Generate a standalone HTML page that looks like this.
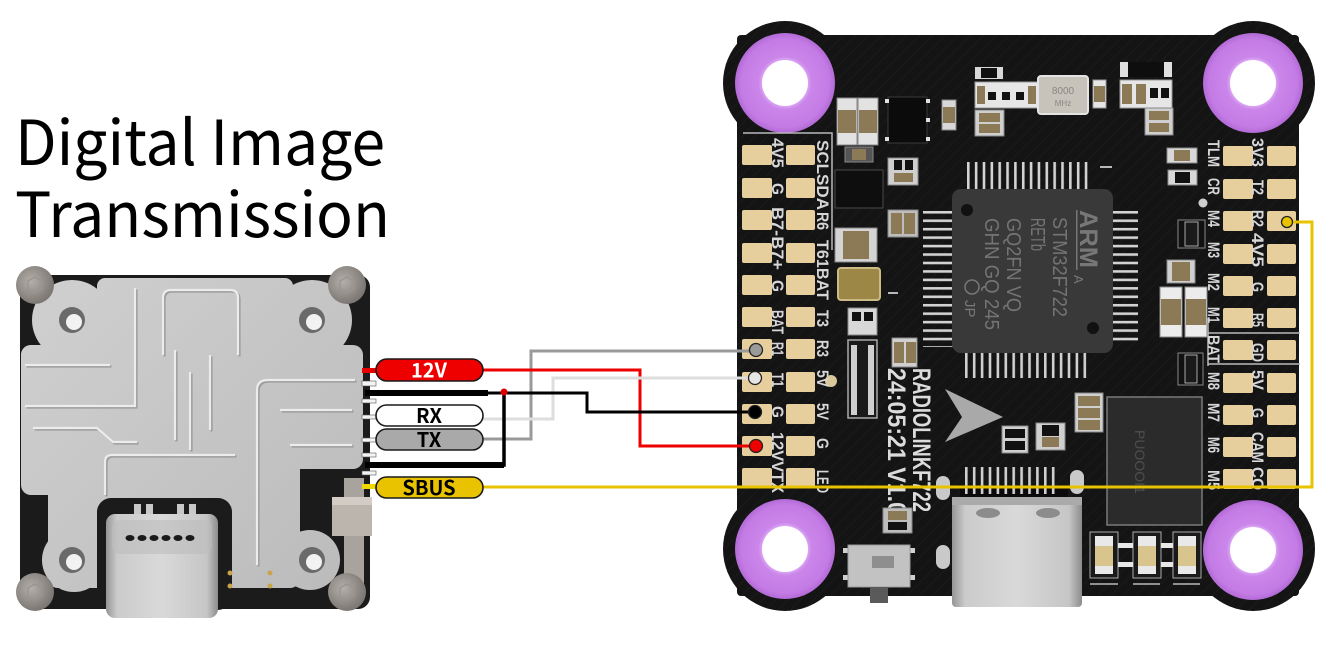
<!DOCTYPE html>
<html><head><meta charset="utf-8"><style>
html,body{margin:0;padding:0;background:#fff;width:1340px;height:651px;overflow:hidden}
svg{display:block}
.lb{font-family:"Liberation Sans",sans-serif;font-weight:bold;font-size:17px;fill:#d6d6d6}
.ct{font-family:"Liberation Sans",sans-serif;font-size:20px;fill:#747474}
.pl{font-family:"Noto Sans CJK SC","Liberation Sans",sans-serif;font-weight:700;font-size:20px;text-anchor:middle}
</style></head><body>
<svg width="1340" height="651" viewBox="0 0 1340 651" xmlns="http://www.w3.org/2000/svg">
<defs>
 <radialGradient id="ring" cx="0.5" cy="0.5" r="0.5">
  <stop offset="0.46" stop-color="#dca6f3"/>
  <stop offset="0.53" stop-color="#cb86ea"/>
  <stop offset="0.88" stop-color="#c47be5"/>
  <stop offset="1" stop-color="#b26ad6"/>
 </radialGradient>
 <linearGradient id="silver" gradientUnits="userSpaceOnUse" x1="20" y1="275" x2="370" y2="610">
  <stop offset="0" stop-color="#d0d0d0"/>
  <stop offset="1" stop-color="#bababa"/>
 </linearGradient>
 <linearGradient id="usb" x1="0" y1="0" x2="1" y2="0">
  <stop offset="0" stop-color="#959595"/>
  <stop offset="0.1" stop-color="#cbcbcb"/>
  <stop offset="0.5" stop-color="#d9d9d9"/>
  <stop offset="0.9" stop-color="#c6c6c6"/>
  <stop offset="1" stop-color="#8c8c8c"/>
 </linearGradient>
 <radialGradient id="screw" cx="0.4" cy="0.4" r="0.6">
  <stop offset="0" stop-color="#b4afa9"/>
  <stop offset="1" stop-color="#7c7772"/>
 </radialGradient>
 <pattern id="tr" width="9" height="9" patternUnits="userSpaceOnUse" patternTransform="rotate(45)">
  <line x1="0" y1="0" x2="0" y2="9" stroke="#1e1e1e" stroke-width="1.4"/>
 </pattern>
 <pattern id="pv" x="967" y="0" width="7.85" height="40" patternUnits="userSpaceOnUse">
  <rect x="0" y="0" width="2.6" height="40" fill="#d2d2d2"/>
 </pattern>
 <pattern id="pv2" x="965" y="0" width="7.9" height="40" patternUnits="userSpaceOnUse">
  <rect x="0" y="0" width="2.6" height="40" fill="#cfcfcf"/>
 </pattern>
 <pattern id="ph" x="0" y="211" width="40" height="8.45" patternUnits="userSpaceOnUse">
  <rect x="0" y="0" width="40" height="2.6" fill="#d2d2d2"/>
 </pattern>
 <clipPath id="bclip">
  <rect x="737" y="35" width="562" height="561" rx="4"/>
  <circle cx="785" cy="83" r="62"/><circle cx="1253" cy="83" r="62"/>
  <circle cx="785" cy="549" r="62"/><circle cx="1253" cy="549" r="62"/>
 </clipPath>
</defs>

<!-- Title -->
<text x="15" y="165" font-family="'Noto Sans CJK SC','Liberation Sans',sans-serif" font-size="62" fill="#000" textLength="370" lengthAdjust="spacingAndGlyphs">Digital Image</text>
<text x="15" y="237" font-family="'Noto Sans CJK SC','Liberation Sans',sans-serif" font-size="62" fill="#000" textLength="375" lengthAdjust="spacingAndGlyphs">Transmission</text>

<!-- ============ LEFT MODULE ============ -->
<rect x="20" y="275" width="350" height="334" rx="12" fill="#1b1b1b"/>
<g fill="url(#silver)">
 <rect x="97" y="278" width="196" height="230" rx="8"/>
 <rect x="21" y="345" width="342" height="124" rx="10"/>
 <rect x="21" y="345" width="279" height="150" rx="10"/>
 <rect x="48" y="470" width="252" height="118" rx="10"/>
 <circle cx="72" cy="320" r="40"/>
 <circle cx="312" cy="320" r="40"/>
 <circle cx="74" cy="560" r="32"/>
 <circle cx="310" cy="560" r="30"/>
 <rect x="60" y="300" width="270" height="60"/>
</g>
<!-- grooves -->
<g fill="none" stroke="#9d9d9d" stroke-width="2.2" transform="translate(1.5,1.5)">
 <path d="M25 365 H110"/><path d="M25 406 H135 V288"/>
 <path d="M33 428 H97 L113 442 H137"/>
 <path d="M163 355 V298 Q163 290 171 290 H230 Q238 290 238 298 V355"/>
 <path d="M175 350 V440"/><path d="M190 372 V450"/><path d="M210 355 V430"/>
 <path d="M105 495 V462 Q105 455 112 455 H235"/>
 <path d="M257 565 V390 Q257 380 268 380 H355"/>
 <path d="M280 410 H352"/><path d="M290 445 H352"/>
</g>
<g fill="none" stroke="#ececec" stroke-width="2.2">
 <path d="M25 365 H110"/><path d="M25 406 H135 V288"/>
 <path d="M33 428 H97 L113 442 H137"/>
 <path d="M163 355 V298 Q163 290 171 290 H230 Q238 290 238 298 V355"/>
 <path d="M175 350 V440"/><path d="M190 372 V450"/><path d="M210 355 V430"/>
 <path d="M105 495 V462 Q105 455 112 455 H235"/>
 <path d="M257 565 V390 Q257 380 268 380 H355"/>
 <path d="M280 410 H352"/><path d="M290 445 H352"/>
</g>
<!-- holes -->
<g>
 <circle cx="72" cy="320" r="13" fill="#6a6a6a"/><circle cx="74" cy="322" r="8" fill="#f2f2f2"/>
 <circle cx="312" cy="320" r="13" fill="#6a6a6a"/><circle cx="314" cy="322" r="8" fill="#f2f2f2"/>
 <circle cx="72" cy="560" r="13" fill="#6a6a6a"/><circle cx="74" cy="562" r="8" fill="#f2f2f2"/>
 <circle cx="312" cy="560" r="13" fill="#6a6a6a"/><circle cx="314" cy="562" r="8" fill="#f2f2f2"/>
</g>
<!-- USB cutout + connector -->
<rect x="97" y="498" width="135" height="112" rx="14" fill="#1b1b1b"/>
<g fill="#c8c8c8">
 <rect x="134" y="504" width="7" height="12"/><rect x="146" y="504" width="7" height="12"/>
 <rect x="177" y="504" width="7" height="12"/><rect x="189" y="504" width="7" height="12"/>
</g>
<rect x="106" y="514" width="112" height="104" rx="9" fill="url(#usb)"/>
<rect x="112" y="520" width="100" height="34" rx="8" fill="#bdbdbd" opacity="0.6"/>
<g fill="#1a1a1a">
 <ellipse cx="130" cy="538" rx="4.5" ry="3"/><ellipse cx="142" cy="538" rx="4.5" ry="3"/>
 <ellipse cx="154" cy="538" rx="4.5" ry="3"/><ellipse cx="166" cy="538" rx="4.5" ry="3"/>
 <ellipse cx="178" cy="538" rx="4.5" ry="3"/><ellipse cx="190" cy="538" rx="4.5" ry="3"/>
</g>
<g fill="#c9a44a">
 <circle cx="230" cy="573" r="2.5"/><circle cx="230" cy="586" r="2.5"/>
 <circle cx="270" cy="573" r="2.5"/><circle cx="270" cy="586" r="2.5"/>
</g>
<!-- slider -->
<rect x="344" y="478" width="20" height="122" fill="#a9a39d"/>
<rect x="332" y="497" width="40" height="39" fill="#bcb5ad"/>
<rect x="332" y="497" width="40" height="8" fill="#d2ccc5"/>
<!-- screws -->
<g>
 <circle cx="35" cy="285" r="19" fill="url(#screw)"/>
 <circle cx="347" cy="285" r="19" fill="url(#screw)"/>
 <circle cx="35" cy="592" r="19" fill="url(#screw)"/>
 <circle cx="347" cy="592" r="19" fill="url(#screw)"/>
 <g fill="none" stroke="#9b958f" stroke-width="1.5">
  <polygon points="35,277 42,281 42,289 35,293 28,289 28,281"/>
  <polygon points="347,277 354,281 354,289 347,293 340,289 340,281"/>
  <polygon points="35,584 42,588 42,596 35,600 28,596 28,588"/>
  <polygon points="347,584 354,588 354,596 347,600 340,596 340,588"/>
 </g>
</g>
<!-- module edge stubs -->
<g fill="#f4f4f4" stroke="#555" stroke-width="0.6">
 <rect x="362" y="381" width="14" height="5"/>
 <rect x="362" y="399" width="14" height="4"/>
 <rect x="362" y="415" width="14" height="4"/>
 <rect x="362" y="438" width="14" height="4"/>
 <rect x="362" y="453" width="14" height="4"/>
 <rect x="362" y="471" width="14" height="4"/>
</g>
<rect x="362" y="368" width="16" height="5" fill="#e60000"/>
<rect x="362" y="484" width="16" height="5" fill="#f0d800"/>

<!-- ============ FC BOARD ============ -->
<g fill="#141414">
 <rect x="737" y="35" width="562" height="561" rx="4"/>
 <circle cx="785" cy="83" r="62"/><circle cx="1253" cy="83" r="62"/>
 <circle cx="785" cy="549" r="62"/><circle cx="1253" cy="549" r="62"/>
</g>
<rect x="720" y="20" width="600" height="600" fill="url(#tr)" clip-path="url(#bclip)" opacity="0.9"/>

<!-- mounting rings -->
<g>
 <circle cx="785" cy="83" r="50" fill="url(#ring)"/><circle cx="785" cy="83" r="23" fill="#fff"/>
 <circle cx="1253" cy="83" r="50" fill="url(#ring)"/><circle cx="1253" cy="83" r="23" fill="#fff"/>
 <circle cx="785" cy="549" r="50" fill="url(#ring)"/><circle cx="785" cy="549" r="23" fill="#fff"/>
 <circle cx="1253" cy="550" r="50" fill="url(#ring)"/><circle cx="1253" cy="550" r="23" fill="#fff"/>
</g>

<!-- silkscreen lines -->
<g stroke="#b9b9b9" stroke-width="1.5" fill="none">
 <path d="M743 133 H832 V250"/>
 <path d="M1208 333 H1300 M1208 364 H1300 M1208 318 V366"/>
 <path d="M1090 584 H1118 M1133 584 H1160 M1173 584 H1200"/>
</g>

<!-- pads -->
<g fill="#e6cf9c">
 <g id="lp">
  <rect x="742" y="145" width="30" height="20" rx="2"/><rect x="786" y="145" width="29" height="20" rx="2"/>
  <rect x="742" y="178" width="30" height="20" rx="2"/><rect x="786" y="178" width="29" height="20" rx="2"/>
  <rect x="742" y="210" width="30" height="20" rx="2"/><rect x="786" y="210" width="29" height="20" rx="2"/>
  <rect x="742" y="243" width="30" height="20" rx="2"/><rect x="786" y="243" width="29" height="20" rx="2"/>
  <rect x="742" y="275" width="30" height="20" rx="2"/><rect x="786" y="275" width="29" height="20" rx="2"/>
  <rect x="742" y="307" width="30" height="20" rx="2"/><rect x="786" y="307" width="29" height="20" rx="2"/>
  <rect x="742" y="339" width="30" height="20" rx="2"/><rect x="786" y="339" width="29" height="20" rx="2"/>
  <rect x="742" y="372" width="30" height="20" rx="2"/><rect x="786" y="372" width="29" height="20" rx="2"/>
  <rect x="742" y="404" width="30" height="20" rx="2"/><rect x="786" y="404" width="29" height="20" rx="2"/>
  <rect x="742" y="436" width="30" height="20" rx="2"/><rect x="786" y="436" width="29" height="20" rx="2"/>
  <rect x="742" y="468" width="30" height="20" rx="2"/><rect x="786" y="468" width="29" height="20" rx="2"/>
 </g>
 <use href="#lp" transform="translate(481,1)"/>
</g>
<circle cx="831" cy="381" r="6" fill="#d9c99a"/>
<circle cx="1203" cy="203" r="4.5" fill="#cfcfcf"/>

<!-- labels -->
<g class="lb">
 <text transform="translate(772,138) rotate(90)" textLength="30" lengthAdjust="spacingAndGlyphs">4V5</text>
 <text transform="translate(772,183) rotate(90)" textLength="12" lengthAdjust="spacingAndGlyphs">G</text>
 <text transform="translate(772,207) rotate(90)" textLength="63" lengthAdjust="spacingAndGlyphs">B7-B7+</text>
 <text transform="translate(772,280) rotate(90)" textLength="12" lengthAdjust="spacingAndGlyphs">G</text>
 <text transform="translate(772,310) rotate(90)" textLength="24" lengthAdjust="spacingAndGlyphs">BAT</text>
 <text transform="translate(772,342) rotate(90)" textLength="14" lengthAdjust="spacingAndGlyphs">R1</text>
 <text transform="translate(772,373) rotate(90)" textLength="14" lengthAdjust="spacingAndGlyphs">T1</text>
 <text transform="translate(772,406) rotate(90)" textLength="12" lengthAdjust="spacingAndGlyphs">G</text>
 <text transform="translate(772,432) rotate(90)" textLength="61" lengthAdjust="spacingAndGlyphs">12VVTX</text>

 <text transform="translate(817,140) rotate(90)" textLength="70" lengthAdjust="spacingAndGlyphs">SCLSDA</text>
 <text transform="translate(817,212) rotate(90)" textLength="18" lengthAdjust="spacingAndGlyphs">R6</text>
 <text transform="translate(817,240) rotate(90)" textLength="60" lengthAdjust="spacingAndGlyphs">T61BAT</text>
 <text transform="translate(817,310) rotate(90)" textLength="17" lengthAdjust="spacingAndGlyphs">T3</text>
 <text transform="translate(817,340) rotate(90)" textLength="17" lengthAdjust="spacingAndGlyphs">R3</text>
 <text transform="translate(817,370) rotate(90)" textLength="17" lengthAdjust="spacingAndGlyphs">5V</text>
 <text transform="translate(817,403) rotate(90)" textLength="17" lengthAdjust="spacingAndGlyphs">5V</text>
 <text transform="translate(817,438) rotate(90)" textLength="11" lengthAdjust="spacingAndGlyphs">G</text>
 <text transform="translate(817,470) rotate(90)" textLength="23" lengthAdjust="spacingAndGlyphs">LED</text>

 <text transform="translate(1208,140) rotate(90)" textLength="27" lengthAdjust="spacingAndGlyphs">TLM</text>
 <text transform="translate(1208,178) rotate(90)" textLength="17" lengthAdjust="spacingAndGlyphs">CR</text>
 <text transform="translate(1208,210) rotate(90)" textLength="17" lengthAdjust="spacingAndGlyphs">M4</text>
 <text transform="translate(1208,242) rotate(90)" textLength="16" lengthAdjust="spacingAndGlyphs">M3</text>
 <text transform="translate(1208,273) rotate(90)" textLength="18" lengthAdjust="spacingAndGlyphs">M2</text>
 <text transform="translate(1208,307) rotate(90)" textLength="16" lengthAdjust="spacingAndGlyphs">M1</text>
 <text transform="translate(1208,335) rotate(90)" textLength="28" lengthAdjust="spacingAndGlyphs">BAT</text>
 <text transform="translate(1208,372) rotate(90)" textLength="18" lengthAdjust="spacingAndGlyphs">M8</text>
 <text transform="translate(1208,403) rotate(90)" textLength="19" lengthAdjust="spacingAndGlyphs">M7</text>
 <text transform="translate(1208,437) rotate(90)" textLength="16" lengthAdjust="spacingAndGlyphs">M6</text>
 <text transform="translate(1208,470) rotate(90)" textLength="20" lengthAdjust="spacingAndGlyphs">M5</text>

 <text transform="translate(1252,138) rotate(90)" textLength="29" lengthAdjust="spacingAndGlyphs">3V3</text>
 <text transform="translate(1252,180) rotate(90)" textLength="15" lengthAdjust="spacingAndGlyphs">T2</text>
 <text transform="translate(1252,210) rotate(90)" textLength="17" lengthAdjust="spacingAndGlyphs">R2</text>
 <text transform="translate(1252,233) rotate(90)" textLength="34" lengthAdjust="spacingAndGlyphs">4V5</text>
 <text transform="translate(1252,282) rotate(90)" textLength="10" lengthAdjust="spacingAndGlyphs">G</text>
 <text transform="translate(1252,313) rotate(90)" textLength="14" lengthAdjust="spacingAndGlyphs">R5</text>
 <text transform="translate(1252,343) rotate(90)" textLength="19" lengthAdjust="spacingAndGlyphs">GD</text>
 <text transform="translate(1252,370) rotate(90)" textLength="20" lengthAdjust="spacingAndGlyphs">5V</text>
 <text transform="translate(1252,408) rotate(90)" textLength="10" lengthAdjust="spacingAndGlyphs">G</text>
 <text transform="translate(1252,432) rotate(90)" textLength="31" lengthAdjust="spacingAndGlyphs">CAM</text>
 <text transform="translate(1252,467) rotate(90)" textLength="23" lengthAdjust="spacingAndGlyphs">CO</text>
</g>

<!-- Board text -->
<g font-family="Liberation Sans, sans-serif" font-weight="bold" fill="#dcdcdc" font-size="25">
 <text transform="translate(913,368) rotate(90)" textLength="144" lengthAdjust="spacingAndGlyphs">RADIOLINKF722</text>
 <text transform="translate(888,368) rotate(90)" textLength="147" lengthAdjust="spacingAndGlyphs">24:05:21 V1.0</text>
</g>
<polygon points="945,389 1003,417 945,442 962,417" fill="#a9a9a9"/>

<!-- MCU -->
<rect x="966" y="162" width="122" height="28" fill="url(#pv)"/>
<rect x="965" y="351" width="124" height="27" fill="url(#pv2)"/>
<rect x="923" y="211" width="30" height="136" fill="url(#ph)"/>
<rect x="1112" y="209" width="26" height="134" fill="url(#ph)"/>
<rect x="952" y="189" width="161" height="164" rx="9" fill="#393939"/>
<circle cx="967" cy="210" r="6" fill="#111"/>
<circle cx="1093" cy="328" r="6" fill="#111"/>
<g fill="#777">
 <text transform="translate(1080,210) rotate(90)" font-family="Liberation Sans,sans-serif" font-weight="bold" font-size="25" textLength="58" lengthAdjust="spacingAndGlyphs">ARM</text>
 <text transform="translate(1074,275) rotate(90)" font-family="Liberation Sans,sans-serif" font-size="13">A</text>
 <rect x="1076" y="210" width="1.5" height="60"/>
 <text class="ct" transform="translate(1053,217) rotate(90)" textLength="100" lengthAdjust="spacingAndGlyphs">STM32F722</text>
 <text class="ct" transform="translate(1031,218) rotate(90)" textLength="33" lengthAdjust="spacingAndGlyphs">RETb</text>
 <text class="ct" transform="translate(1007,218) rotate(90)" textLength="94" lengthAdjust="spacingAndGlyphs">GQ2FN VQ</text>
 <text class="ct" transform="translate(985,218) rotate(90)" textLength="112" lengthAdjust="spacingAndGlyphs">GHN GQ 245</text>
 <text transform="translate(965,300) rotate(90)" font-family="Liberation Sans,sans-serif" font-size="15">JP</text>
</g>
<circle cx="972" cy="287" r="7" fill="none" stroke="#777" stroke-width="1.5"/>
<g fill="#b8b8b8"><rect x="1100" y="166" width="12" height="2"/><rect x="888" y="292" width="10" height="2"/></g>

<!-- components -->
<g>
 <rect x="837" y="98" width="20" height="47" fill="#e2e2e2" stroke="#888"/>
 <rect x="858" y="98" width="20" height="47" fill="#e2e2e2" stroke="#888"/>
 <rect x="838" y="110" width="18" height="23" fill="#8c7a56"/>
 <rect x="859" y="110" width="18" height="23" fill="#8c7a56"/>
 <rect x="845" y="147" width="28" height="15" fill="#555" stroke="#888"/>
 <rect x="852" y="149" width="14" height="11" fill="#8c7a56"/>
 <rect x="888" y="97" width="39" height="46" fill="#0b0b0b" stroke="#3a3a3a"/>
 <g fill="#e0e0e0"><rect x="885" y="99" width="4" height="4"/><rect x="926" y="99" width="4" height="4"/><rect x="926" y="118" width="4" height="4"/><rect x="926" y="137" width="4" height="4"/><rect x="885" y="137" width="4" height="4"/></g>
 <rect x="942" y="100" width="14" height="30" fill="#d8d8d8" stroke="#888"/>
 <rect x="943" y="107" width="12" height="16" fill="#8c7a56"/>
 <rect x="975" y="67" width="28" height="12" fill="#d8d8d8"/><rect x="981" y="68" width="16" height="10" fill="#111"/>
 <rect x="975" y="82" width="63" height="26" fill="#e6e6e6" stroke="#999"/>
 <g fill="#111"><rect x="988" y="92" width="8" height="8"/><rect x="1002" y="92" width="8" height="8"/><rect x="1016" y="92" width="8" height="8"/></g>
 <rect x="977" y="86" width="8" height="18" fill="#8c7a56"/>
 <rect x="1028" y="86" width="8" height="18" fill="#8c7a56"/>
 <rect x="975" y="110" width="29" height="26" fill="#cfcfcf" stroke="#888"/>
 <rect x="979" y="113" width="21" height="9" fill="#8c7a56"/><rect x="979" y="124" width="21" height="9" fill="#8c7a56"/>
 <rect x="1038" y="76" width="50" height="38" rx="3" fill="#c7c3bb" stroke="#e4e4e4" stroke-width="2"/>
 <text x="1063" y="94" text-anchor="middle" font-family="Liberation Sans,sans-serif" font-size="10" fill="#8a8680">8000</text>
 <text x="1063" y="106" text-anchor="middle" font-family="Liberation Sans,sans-serif" font-size="8" fill="#8a8680">MHz</text>
 <rect x="1093" y="80" width="13" height="28" fill="#e6e6e6" stroke="#999"/><rect x="1094" y="86" width="11" height="16" fill="#8c7a56"/>
 <rect x="1120" y="62" width="52" height="15" fill="#e0e0e0"/><rect x="1128" y="62" width="36" height="15" fill="#0e0e0e"/>
 <rect x="1120" y="80" width="52" height="28" fill="#e6e6e6" stroke="#999"/>
 <rect x="1122" y="84" width="10" height="20" fill="#8c7a56"/><rect x="1136" y="84" width="10" height="20" fill="#8c7a56"/>
 <rect x="1150" y="88" width="8" height="10" fill="#111"/><rect x="1161" y="88" width="8" height="10" fill="#111"/>
 <rect x="1145" y="108" width="28" height="27" fill="#cfcfcf" stroke="#888"/>
 <rect x="1149" y="111" width="20" height="9" fill="#8c7a56"/><rect x="1149" y="123" width="20" height="9" fill="#8c7a56"/>
 <rect x="1167" y="148" width="30" height="15" fill="#d8d8d8" stroke="#888"/><rect x="1174" y="150" width="16" height="11" fill="#8c7a56"/>
 <rect x="1168" y="170" width="29" height="15" fill="#d8d8d8" stroke="#888"/><rect x="1175" y="172" width="15" height="11" fill="#111"/>
 <rect x="835" y="170" width="48" height="38" fill="#0e0e0e" stroke="#4a4a4a"/>
 <rect x="888" y="158" width="30" height="27" fill="#cfcfcf" stroke="#888"/>
 <rect x="894" y="160" width="8" height="10" fill="#111"/><rect x="905" y="160" width="8" height="10" fill="#111"/>
 <rect x="894" y="173" width="19" height="9" fill="#8c7a56"/>
 <rect x="888" y="210" width="30" height="27" fill="#bdbdbd" stroke="#888"/>
 <rect x="891" y="213" width="11" height="21" fill="#8c7a56"/><rect x="904" y="213" width="11" height="21" fill="#8c7a56"/>
 <rect x="835" y="228" width="42" height="34" fill="#d4d4d4" stroke="#888"/>
 <rect x="843" y="231" width="26" height="28" fill="#8c7a56"/>
 <rect x="838" y="268" width="42" height="32" rx="3" fill="#9c8747" stroke="#cdbb85" stroke-width="2"/>
 <rect x="848" y="308" width="29" height="27" fill="#d8d8d8" stroke="#888"/>
 <rect x="852" y="312" width="9" height="9" fill="#111"/><rect x="864" y="312" width="9" height="9" fill="#111"/>
 <rect x="848" y="340" width="29" height="78" fill="#1a1a1a" stroke="#aaa" stroke-width="1.5"/>
 <g fill="#cfcfcf"><rect x="851" y="345" width="6" height="70"/><rect x="868" y="345" width="6" height="70"/></g>
 <rect x="892" y="338" width="25" height="29" fill="#d0d0d0" stroke="#888"/>
 <rect x="894" y="342" width="10" height="21" fill="#8c7a56"/><rect x="906" y="342" width="10" height="21" fill="#8c7a56"/>
 <rect x="883" y="508" width="29" height="25" fill="#bdbdbd" stroke="#888"/>
 <rect x="888" y="511" width="19" height="9" fill="#8c7a56"/><rect x="888" y="522" width="19" height="8" fill="#111"/>
 <rect x="1178" y="220" width="27" height="28" fill="#111" stroke="#888"/>
 <rect x="1185" y="222" width="13" height="24" fill="#1a1a1a" stroke="#ccc" stroke-width="0.8"/>
 <rect x="1167" y="260" width="28" height="23" fill="#cfcfcf" stroke="#888"/><rect x="1172" y="262" width="18" height="19" fill="#8c7a56"/>
 <rect x="1160" y="287" width="22" height="50" fill="#ececec" stroke="#888"/><rect x="1161" y="299" width="20" height="26" fill="#8c7a56"/>
 <rect x="1185" y="287" width="22" height="50" fill="#ececec" stroke="#888"/><rect x="1186" y="299" width="20" height="26" fill="#8c7a56"/>
 <rect x="1178" y="353" width="25" height="32" fill="#111" stroke="#888"/>
 <rect x="1185" y="355" width="12" height="28" fill="#1a1a1a" stroke="#ccc" stroke-width="0.8"/>
 <rect x="1002" y="426" width="26" height="27" fill="#cfcfcf" stroke="#888"/>
 <rect x="1005" y="429" width="20" height="9" fill="#111"/><rect x="1005" y="441" width="20" height="9" fill="#111"/>
 <rect x="1036" y="423" width="29" height="27" fill="#cfcfcf" stroke="#888"/>
 <rect x="1042" y="425" width="17" height="11" fill="#111"/><rect x="1042" y="437" width="17" height="10" fill="#8c7a56"/>
 <rect x="1075" y="393" width="28" height="39" fill="#cfcfcf" stroke="#888"/>
 <rect x="1078" y="396" width="22" height="10" fill="#8c7a56"/><rect x="1078" y="408" width="22" height="10" fill="#8c7a56"/><rect x="1078" y="420" width="22" height="10" fill="#8c7a56"/>
</g>

<!-- flash chip -->
<rect x="1107" y="397" width="95" height="128" fill="#2b2b2b" stroke="#7a7a7a" stroke-width="1.5"/>
<text transform="translate(1135,430) rotate(90)" font-family="Liberation Sans,sans-serif" font-size="14" fill="#4e4e4e">PUOOOI1</text>

<!-- LEDs -->
<g>
 <rect x="1090" y="532" width="28" height="46" fill="#1a1a1a" stroke="#aaa"/>
 <rect x="1133" y="532" width="28" height="46" fill="#1a1a1a" stroke="#aaa"/>
 <rect x="1173" y="532" width="28" height="46" fill="#1a1a1a" stroke="#aaa"/>
 <g fill="#e8e8e8"><rect x="1118" y="543" width="15" height="5"/><rect x="1118" y="562" width="15" height="5"/><rect x="1161" y="543" width="12" height="5"/><rect x="1161" y="562" width="12" height="5"/></g>
 <rect x="1095" y="536" width="18" height="38" fill="#e9e9e9"/><rect x="1095" y="546" width="18" height="20" fill="#d8c58e"/>
 <rect x="1138" y="536" width="18" height="38" fill="#e9e9e9"/><rect x="1138" y="546" width="18" height="20" fill="#d8c58e"/>
 <rect x="1178" y="536" width="18" height="38" fill="#e9e9e9"/><rect x="1178" y="546" width="18" height="20" fill="#d8c58e"/>
</g>

<!-- USB-C on FC -->
<rect x="960" y="488" width="108" height="12" fill="#0a0a0a"/>
<rect x="965" y="467" width="94" height="27" fill="url(#pv2)"/>
<g fill="#c9c9c9">
 <rect x="936" y="476" width="14" height="24" rx="7"/>
 <rect x="936" y="545" width="14" height="24" rx="7"/>
 <rect x="1070" y="470" width="14" height="24" rx="7"/>
</g>
<rect x="952" y="497" width="130" height="110" rx="4" fill="url(#usb)"/>
<rect x="952" y="497" width="130" height="8" fill="#aaa"/>
<ellipse cx="988" cy="513" rx="12" ry="5" fill="#8c8c8c"/>
<ellipse cx="1048" cy="513" rx="12" ry="5" fill="#8c8c8c"/>

<!-- slide switch -->
<g>
 <rect x="843" y="548" width="72" height="5" fill="#d0d0d0"/>
 <rect x="843" y="575" width="72" height="5" fill="#d0d0d0"/>
 <rect x="848" y="545" width="62" height="42" fill="#c2c2c2" stroke="#999"/>
 <rect x="870" y="587" width="18" height="16" fill="#5a5a5a"/>
 <rect x="872" y="556" width="22" height="12" fill="#8e8e8e"/>
</g>

<!-- ============ WIRES ============ -->
<g fill="none" stroke-width="3" stroke-linejoin="miter">
 <polyline points="483,439 531,439 531,351 756,351" stroke="#9a9a9a"/>
 <polyline points="483,370 640,370 640,446 756,446" stroke="#ee0000"/>
 <polyline points="483,419 553,419 553,378 756,378" stroke="#dedede"/>
 <polyline points="487,393 587,393 587,412 756,412" stroke="#000"/>
 <line x1="365" y1="393" x2="488" y2="393" stroke="#000" stroke-width="6"/>
 <polyline points="365,465 504,465 504,393" stroke="#000" stroke-width="3.5"/>
 <line x1="365" y1="465" x2="504" y2="465" stroke="#000" stroke-width="6"/>
 <polyline points="483,487 1312,487 1312,222 1287,222" stroke="#e9c300"/>
</g>
<circle cx="504" cy="392" r="3.5" fill="#e00000"/>

<!-- pad dots -->
<g stroke="#222" stroke-width="1.3">
 <circle cx="756" cy="350" r="6.5" fill="#9a9a9a"/>
 <circle cx="755" cy="378" r="6.5" fill="#e6e6e6"/>
 <circle cx="755" cy="412" r="6.5" fill="#000"/>
 <circle cx="756" cy="446" r="6.5" fill="#ee0000"/>
 <circle cx="1287" cy="222" r="5.5" fill="#e9c300"/>
</g>

<!-- pills -->
<g stroke="#1a1a1a" stroke-width="1.6">
 <rect x="376" y="359" width="107" height="22" rx="11" fill="#ee0000"/>
 <rect x="376" y="405" width="107" height="21" rx="10.5" fill="#fff"/>
 <rect x="376" y="429" width="107" height="21" rx="10.5" fill="#a9a9a9"/>
 <rect x="376" y="477" width="107" height="21" rx="10.5" fill="#e9c300"/>
</g>
<text class="pl" x="429" y="377.5" fill="#fff">12V</text>
<text class="pl" x="429" y="423" fill="#000">RX</text>
<text class="pl" x="429" y="447" fill="#000">TX</text>
<text class="pl" x="429" y="495" fill="#000">SBUS</text>
</svg>
</body></html>
